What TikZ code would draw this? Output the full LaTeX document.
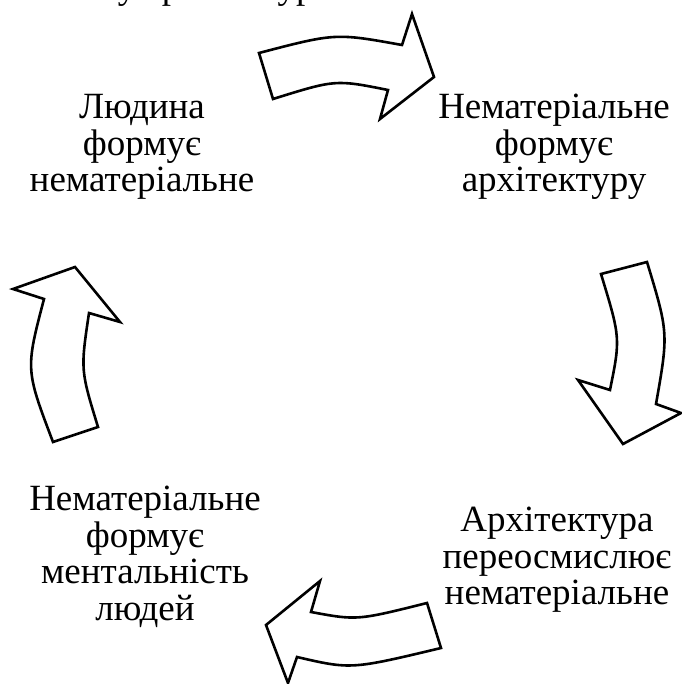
\documentclass[tikz,border=0pt]{standalone}
\usepackage{fontspec}
\setmainfont{Liberation Serif}
\begin{document}
\begin{tikzpicture}[x=1pt,y=-1pt,
  bigarrow/.style={draw=black,fill=white,line width=2.6pt,line join=miter},
  lbl/.style={align=center,inner sep=0pt,font=\fontsize{37}{36.5}\selectfont},
  cut/.style={inner sep=0pt,anchor=base,font=\fontsize{37}{36.5}\selectfont}]
\useasboundingbox (0,0) rectangle (681,684);
% clipped line of text above the picture
\node[cut] (c1) at (127,-1.5) {у};
\node[cut] (c2) at (171,-1.5) {р};
\node[cut] (c3) at (296,-1.5) {ур};
% labels
\node[lbl] (tl) at (142,147) {Людина\\формує\\нематеріальне};
\node[lbl] (tr) at (554,147) {Нематеріальне\\формує\\архітектуру};
\node[lbl] (br) at (557,560) {Архітектура\\переосмислює\\нематеріальне};
\node[lbl] (bl) at (145,557) {Нематеріальне\\формує\\ментальність\\людей};
% top arrow (left to right)
\draw[bigarrow] (259,53) .. controls (335.5,33) .. (402,45) -- (412,14) -- (434,77)
  -- (380,119) -- (388,90) .. controls (335.5,79.5) .. (273,99) -- cycle;
% right arrow (downwards)
\draw[bigarrow] (601,274) -- (647,262) .. controls (668.5,333) .. (656,404) -- (681,413)
  -- (623,444) -- (578,380) -- (610,390) .. controls (620.5,338) .. cycle;
% bottom arrow (right to left)
\draw[bigarrow] (427,603) -- (441,648) .. controls (351,669.5) .. (297,657) -- (288,683)
  -- (266,625) -- (320,581) -- (311,612) .. controls (357,620.5) .. cycle;
% left arrow (upwards)
\draw[bigarrow] (53,442) -- (98,427) .. controls (80.5,370) .. (89,313) -- (120,322)
  -- (75,267) -- (13,289) -- (44,299) .. controls (25.5,369.5) .. cycle;
\end{tikzpicture}
\end{document}
